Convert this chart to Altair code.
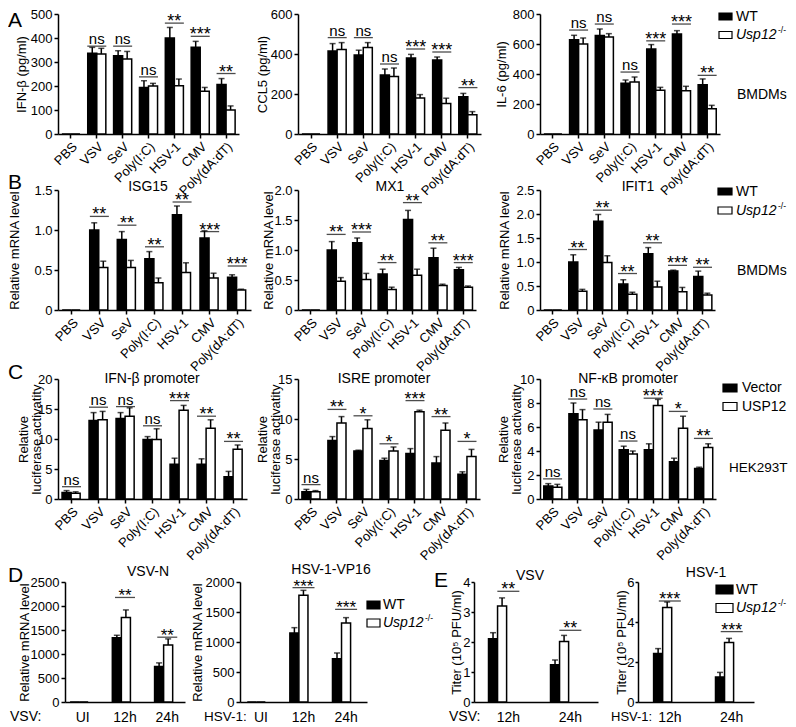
import altair as alt
import pandas as pd

FONT = "Liberation Sans"
PLOT_H = 120

CATS = ["PBS", "VSV", "SeV", "Poly(I:C)", "HSV-1", "CMV", "Poly(dA:dT)"]
TIMES_D = ["UI", "12h", "24h"]
TIMES_E = ["12h", "24h"]

# ---------------- A: cytokines (pg/ml), WT vs Usp12-/- ----------------
IFNB_WT = [0, 336, 326, 194, 400, 361, 206]
IFNB_WT_SD = [0, 25, 21, 28, 44, 25, 25]
IFNB_KO = [0, 333, 312, 200, 201, 178, 100]
IFNB_KO_SD = [0, 24, 32, 11, 28, 16, 17]
IFNB_SIG = ["", "ns", "ns", "ns", "**", "***", "**"]
IFNB_SIG_Y = [0, 366, 366, 238, 462, 407, 252]

CCL5_WT = [0, 415, 395, 295, 380, 370, 186]
CCL5_WT_SD = [0, 37, 24, 30, 18, 15, 17]
CCL5_KO = [0, 423, 432, 288, 180, 152, 96]
CCL5_KO_SD = [0, 34, 25, 42, 17, 27, 16]
CCL5_SIG = ["", "ns", "ns", "ns", "***", "***", "**"]
CCL5_SIG_Y = [0, 482, 482, 350, 425, 410, 232]

IL6_WT = [0, 629, 656, 338, 567, 667, 329]
IL6_WT_SD = [0, 29, 44, 22, 29, 22, 38]
IL6_KO = [0, 600, 647, 347, 291, 289, 169]
IL6_KO_SD = [0, 40, 22, 33, 20, 29, 22]
IL6_SIG = ["", "ns", "ns", "ns", "***", "***", "**"]
IL6_SIG_Y = [0, 693, 733, 413, 621, 733, 391]

# ---------------- B: relative mRNA ----------------
ISG15_WT = [0, 1.00, 0.88, 0.64, 1.19, 0.90, 0.41]
ISG15_WT_SD = [0, 0.09, 0.10, 0.09, 0.11, 0.09, 0.03]
ISG15_KO = [0, 0.53, 0.53, 0.34, 0.47, 0.40, 0.25]
ISG15_KO_SD = [0, 0.08, 0.09, 0.06, 0.12, 0.06, 0.01]
ISG15_SIG = ["", "**", "**", "**", "**", "***", "***"]
ISG15_SIG_Y = [0, 1.17, 1.06, 0.79, 1.35, 0.98, 0.55]

MX1_WT = [0, 1.00, 1.12, 0.60, 1.51, 0.87, 0.67]
MX1_WT_SD = [0, 0.14, 0.08, 0.08, 0.15, 0.16, 0.04]
MX1_KO = [0, 0.48, 0.51, 0.34, 0.58, 0.41, 0.38]
MX1_KO_SD = [0, 0.06, 0.10, 0.04, 0.10, 0.02, 0.02]
MX1_SIG = ["", "**", "***", "**", "**", "**", "***"]
MX1_SIG_Y = [0, 1.26, 1.30, 0.79, 1.79, 1.12, 0.79]

IFIT1_WT = [0, 1.00, 1.85, 0.54, 1.17, 0.81, 0.70]
IFIT1_WT_SD = [0, 0.15, 0.14, 0.09, 0.13, 0.02, 0.11]
IFIT1_KO = [0, 0.39, 0.99, 0.33, 0.48, 0.38, 0.31]
IFIT1_KO_SD = [0, 0.04, 0.14, 0.04, 0.12, 0.09, 0.04]
IFIT1_SIG = ["", "**", "**", "**", "**", "***", "**"]
IFIT1_SIG_Y = [0, 1.26, 2.08, 0.76, 1.40, 0.93, 0.89]

# ---------------- C: luciferase, Vector vs USP12 ----------------
IFNP_V = [1.1, 13.1, 13.4, 9.9, 5.8, 5.8, 3.7]
IFNP_V_SD = [0.3, 1.3, 1.0, 0.5, 1.0, 0.9, 0.9]
IFNP_U = [0.95, 13.2, 13.8, 9.9, 14.8, 11.8, 8.3]
IFNP_U_SD = [0.25, 1.4, 1.4, 1.8, 0.8, 1.4, 0.7]
IFNP_SIG = ["ns", "ns", "ns", "ns", "***", "**", "**"]
IFNP_SIG_Y = [2.05, 15.3, 15.4, 12.2, 16.4, 13.8, 9.6]

ISRE_V = [0.92, 7.3, 6.0, 4.8, 5.7, 4.5, 3.1]
ISRE_V_SD = [0.28, 0.5, 0.1, 0.3, 0.6, 0.8, 0.3]
ISRE_U = [0.9, 9.5, 8.8, 6.0, 10.9, 8.6, 5.3]
ISRE_U_SD = [0.15, 0.8, 1.1, 0.5, 0.2, 0.9, 0.9]
ISRE_SIG = ["ns", "**", "*", "*", "***", "**", "*"]
ISRE_SIG_Y = [1.8, 11.2, 10.4, 6.9, 12.3, 10.3, 7.2]

NFKB_V = [1.08, 7.1, 5.75, 4.1, 4.1, 3.1, 2.55]
NFKB_V_SD = [0.2, 0.9, 0.65, 0.3, 0.5, 0.3, 0.1]
NFKB_U = [0.97, 6.6, 6.4, 3.75, 7.8, 5.9, 4.3]
NFKB_U_SD = [0.25, 0.85, 0.65, 0.25, 0.5, 1.0, 0.3]
NFKB_SIG = ["ns", "ns", "ns", "ns", "***", "*", "**"]
NFKB_SIG_Y = [1.67, 8.33, 7.5, 4.83, 8.4, 7.3, 5.05]

# ---------------- D: viral mRNA ----------------
VSVN_WT = [0, 1336, 740]
VSVN_WT_SD = [0, 54, 75]
VSVN_KO = [0, 1760, 1185]
VSVN_KO_SD = [0, 158, 130]
VSVN_SIG = ["", "**", "**"]
VSVN_SIG_Y = [0, 2178, 1350]

VP16_WT = [0, 1150, 722]
VP16_WT_SD = [0, 89, 95]
VP16_KO = [0, 1778, 1317]
VP16_KO_SD = [0, 83, 89]
VP16_SIG = ["", "***", "***"]
VP16_SIG_Y = [0, 1906, 1544]

# ---------------- E: titers ----------------
TVSV_WT = [2.11, 1.24]
TVSV_WT_SD = [0.20, 0.16]
TVSV_KO = [3.20, 2.02]
TVSV_KO_SD = [0.27, 0.20]
TVSV_SIG = ["**", "**"]
TVSV_SIG_Y = [3.69, 2.39]

THSV_WT = [2.43, 1.25]
THSV_WT_SD = [0.24, 0.23]
THSV_KO = [4.72, 2.97]
THSV_KO_SD = [0.28, 0.21]
THSV_SIG = ["***", "***"]
THSV_SIG_Y = [5.05, 3.52]

# grid column widths (cells); panels may draw wider than their cell
COLS = [7, 175, 58, 176, 66, 98, 116]


def txt(s, x, y, size=14, align="left", style="normal", baseline="middle"):
    return alt.Chart(pd.DataFrame({"t": [s]})).mark_text(
        align=align, baseline=baseline, fontSize=size, fontStyle=style, color="black"
    ).encode(x=alt.value(x), y=alt.value(y), text="t:N")


def swatch(x, x2, y, y2, fill):
    return alt.Chart(pd.DataFrame({"k": [0]})).mark_rect(
        fill=fill, stroke="black", strokeWidth=1.2
    ).encode(x=alt.value(x), x2=alt.value(x2), y=alt.value(y), y2=alt.value(y2))


def legend(x, xt, y1, y2, w, h, lab1, lab2, italic2=True):
    out = [swatch(x, x + w, y1 - h / 2, y1 + h / 2, "black"),
           swatch(x, x + w, y2 - h / 2, y2 + h / 2, "white"),
           txt(lab1, xt, y1)]
    if italic2:
        out.append(txt(lab2, xt, y2, style="italic"))
        out.append(txt("-/-", xt + 42, y2 - 5, size=8.5))
    else:
        out.append(txt(lab2, xt, y2))
    return out


def blank(w, h):
    return alt.Chart(pd.DataFrame({"k": [0]})).mark_text(text="").encode(
        x=alt.value(0), y=alt.value(0)).properties(width=w, height=h)


def panel(cats, wt, wt_sd, ko, ko_sd, sig, sig_y, ymax, yticks, ytitle, title_x,
          slot_w, range_w, slot_h, pad_in=0.3, pad_out=0.15, align=0.5, rotated=True,
          dec=False, sig_w=19, star_size=18, ytick=4, ylpad=2, extras=()):
    top = slot_h - PLOT_H
    rows = []
    for i, c in enumerate(cats):
        rows.append({"cat": c, "grp": "a", "val": wt[i], "sd": wt_sd[i], "top": wt[i] + wt_sd[i]})
        rows.append({"cat": c, "grp": "b", "val": ko[i], "sd": ko_sd[i], "top": ko[i] + ko_sd[i]})
    df = pd.DataFrame(rows)
    err = df[df.sd > 0]
    sdf = pd.DataFrame({"cat": cats, "sig": sig, "sy": sig_y})
    sdf = sdf[sdf.sig != ""]
    ns = sdf[sdf.sig == "ns"]
    st = sdf[sdf.sig != "ns"]

    xscale = alt.Scale(domain=cats, range=[0, range_w], paddingInner=pad_in,
                       paddingOuter=pad_out, align=align)
    if rotated:
        xaxis = alt.Axis(title=None, labelAngle=315, labelAlign="right", labelBaseline="top",
                         ticks=True, tickSize=4, labelFontSize=13, labelPadding=2)
    else:
        xaxis = alt.Axis(title=None, labelAngle=0, ticks=False, labelFontSize=14, labelPadding=8)
    yscale = alt.Scale(domain=[0, ymax], range=[slot_h, top], nice=False, zero=True)
    yargs = dict(values=yticks, title=ytitle, titleX=title_x, titleY=top + PLOT_H / 2,
                 titleBaseline="middle", titleAlign="center", titleAngle=270,
                 titleLineHeight=13, tickSize=ytick, labelPadding=ylpad)
    if dec:
        yaxis = alt.Axis(labelExpr="datum.value == 0 ? '0' : format(datum.value, '.1f')", **yargs)
    else:
        yaxis = alt.Axis(format="d", **yargs)

    X = alt.X("cat:N", scale=xscale, axis=xaxis)
    XO = alt.XOffset("grp:N", scale=alt.Scale(domain=["a", "b"], paddingInner=0, paddingOuter=0))

    def Y(f):
        return alt.Y(f + ":Q", scale=yscale, axis=yaxis)

    bars = alt.Chart(df).mark_bar(stroke="black", strokeWidth=1.5).encode(
        x=X, xOffset=XO, y=Y("val"),
        fill=alt.Fill("grp:N", scale=alt.Scale(domain=["a", "b"], range=["#000000", "#ffffff"]),
                      legend=None))
    errs = alt.Chart(err).mark_rule(color="black", strokeWidth=1.5).encode(
        x=X, xOffset=XO, y=Y("val"), y2="top:Q")
    caps = alt.Chart(err).mark_tick(color="black", thickness=1.5, size=6, orient="horizontal").encode(
        x=X, xOffset=XO, y=Y("top"))
    lines = alt.Chart(sdf).mark_tick(color="black", thickness=1.3, size=sig_w, orient="horizontal").encode(
        x=X, y=Y("sy"))
    ns_t = alt.Chart(ns).mark_text(fontSize=15, baseline="alphabetic", dy=-2, color="black").encode(
        x=X, y=Y("sy"), text="sig:N")
    st_t = alt.Chart(st).mark_text(fontSize=star_size, baseline="alphabetic", dy=4, color="black").encode(
        x=X, y=Y("sy"), text="sig:N")
    return alt.layer(bars, errs, caps, lines, ns_t, st_t, *extras).properties(
        width=slot_w, height=slot_h)


# ---------------- Row A ----------------
HA = 120
tA = HA - PLOT_H
A1 = panel(CATS, IFNB_WT, IFNB_WT_SD, IFNB_KO, IFNB_KO_SD, IFNB_SIG, IFNB_SIG_Y,
           500, [0, 100, 200, 300, 400, 500], "IFN-β (pg/ml)", -37, COLS[0], 181, HA,
           extras=[txt("A", -50, tA + 7, size=21)])
A2 = panel(CATS, CCL5_WT, CCL5_WT_SD, CCL5_KO, CCL5_KO_SD, CCL5_SIG, CCL5_SIG_Y,
           600, [0, 200, 400, 600], "CCL5 (pg/ml)", -36, COLS[3], 183, HA)
A3 = panel(CATS, IL6_WT, IL6_WT_SD, IL6_KO, IL6_KO_SD, IL6_SIG, IL6_SIG_Y,
           800, [0, 200, 400, 600, 800], "IL-6 (pg/ml)", -39, COLS[5], 180, HA,
           extras=legend(179, 196, tA + 2.5, tA + 21, 13, 7, "WT", "Usp12")
           + [txt("BMDMs", 197, tA + 81)])

# ---------------- Row B ----------------
HB = 176
tB = HB - PLOT_H
B1 = panel(CATS, ISG15_WT, ISG15_WT_SD, ISG15_KO, ISG15_KO_SD, ISG15_SIG, ISG15_SIG_Y,
           1.5, [0, 0.5, 1.0, 1.5], "Relative mRNA level", -43.5, COLS[0], 193, HB, dec=True,
           extras=[txt("B", -50, tB - 7, size=21), txt("ISG15", 90, tB - 3, align="center")])
B2 = panel(CATS, MX1_WT, MX1_WT_SD, MX1_KO, MX1_KO_SD, MX1_SIG, MX1_SIG_Y,
           2.0, [0, 0.5, 1.0, 1.5, 2.0], "Relative mRNA level", -30, COLS[3], 178, HB, dec=True,
           extras=[txt("MX1", 92, tB - 3, align="center")])
B3 = panel(CATS, IFIT1_WT, IFIT1_WT_SD, IFIT1_KO, IFIT1_KO_SD, IFIT1_SIG, IFIT1_SIG_Y,
           2.5, [0, 0.5, 1.0, 1.5, 2.0, 2.5], "Relative mRNA level", -36, COLS[5], 175, HB, dec=True,
           extras=[txt("IFIT1", 98, tB - 3, align="center")]
           + legend(178, 196, tB + 1.5, tB + 20.5, 14, 7, "WT", "Usp12")
           + [txt("BMDMs", 197, tB + 81)])

# ---------------- Row C ----------------
HC = 189
tC = HC - PLOT_H
LUC = ["Relative", "luciferase activatity"]
C1 = panel(CATS, IFNP_V, IFNP_V_SD, IFNP_U, IFNP_U_SD, IFNP_SIG, IFNP_SIG_Y,
           20, [0, 5, 10, 15, 20], LUC, -35, COLS[0], 189, HC,
           extras=[txt("C", -50, tC - 6.5, size=21), txt("IFN-β promoter", 94, tC, align="center")])
C2 = panel(CATS, ISRE_V, ISRE_V_SD, ISRE_U, ISRE_U_SD, ISRE_SIG, ISRE_SIG_Y,
           15, [0, 5, 10, 15], LUC, -36, COLS[3], 182, HC,
           extras=[txt("ISRE promoter", 86, tC, align="center")])
C3 = panel(CATS, NFKB_V, NFKB_V_SD, NFKB_U, NFKB_U_SD, NFKB_SIG, NFKB_SIG_Y,
           10, [0, 2, 4, 6, 8, 10], LUC, -37, COLS[5], 176, HC,
           extras=[txt("NF-κB promoter", 88, tC, align="center")]
           + legend(183, 202, tC + 9, tC + 27.5, 14, 8, "Vector", "USP12", italic2=False)
           + [txt("HEK293T", 189, tC + 89, size=13.5)])

# ---------------- Row D / E ----------------
HD = 203
tD = HD - PLOT_H
D1 = panel(TIMES_D, VSVN_WT, VSVN_WT_SD, VSVN_KO, VSVN_KO_SD, VSVN_SIG, VSVN_SIG_Y,
           2500, [0, 500, 1000, 1500, 2000, 2500], "Relative mRNA level", -41, COLS[1], 120, HD,
           pad_in=0.4, pad_out=0.12, rotated=False, sig_w=20, star_size=17,
           extras=[txt("D", -57, tD - 6, size=21), txt("VSV-N", 83, tD - 10, align="center"),
                   txt("VSV:", -55, HD + 15)])
D2 = panel(TIMES_D, VP16_WT, VP16_WT_SD, VP16_KO, VP16_KO_SD, VP16_SIG, VP16_SIG_Y,
           2000, [0, 500, 1000, 1500, 2000], "Relative mRNA level", -43, COLS[2], 127, HD,
           pad_in=0.36, pad_out=0.17, rotated=False, sig_w=22, star_size=17,
           extras=[txt("HSV-1-VP16", 91, tD - 12, align="center"), txt("HSV-1:", -36, HD + 15, size=13.5)]
           + legend(127, 143, tD + 23, tD + 41, 13, 8, "WT", "Usp12"))
E1 = panel(TIMES_E, TVSV_WT, TVSV_WT_SD, TVSV_KO, TVSV_KO_SD, TVSV_SIG, TVSV_SIG_Y,
           4, [0, 1, 2, 3, 4], "Titer (10⁵ PFU/ml)", -18, COLS[4], 124, HD,
           pad_in=0.36, pad_out=0.18, align=0.65, rotated=False, sig_w=22, star_size=18,
           ytick=3, ylpad=1,
           extras=[txt("E", -40, tD - 1, size=21), txt("VSV", 56, tD - 6, align="center"),
                   txt("VSV:", -25, HD + 15)])
E2 = panel(TIMES_E, THSV_WT, THSV_WT_SD, THSV_KO, THSV_KO_SD, THSV_SIG, THSV_SIG_Y,
           6, [0, 2, 4, 6], "Titer (10⁵ PFU/ml)", -17, COLS[6], 116, HD,
           pad_in=0.476, pad_out=0.175, align=0.72, rotated=False, sig_w=22, star_size=18,
           ytick=3, ylpad=1,
           extras=[txt("HSV-1", 68, tD - 9, align="center"), txt("HSV-1:", -27, HD + 15, size=13)]
           + legend(78, 98, tD + 7.5, tD + 26, 17, 9, "WT", "Usp12"))


def row(items, h):
    out = []
    for c, it in enumerate(items):
        out.append(it if it is not None else blank(COLS[c], h))
    return out


panels = (
    row([A1, None, None, A2, None, A3, None], HA)
    + row([B1, None, None, B2, None, B3, None], HB)
    + row([C1, None, None, C2, None, C3, None], HC)
    + row([None, D1, D2, None, E1, None, E2], HD)
)

chart = alt.concat(*panels, columns=7, align="each", bounds="flush", spacing=0).properties(
    padding={"left": 0, "top": 0, "right": 0, "bottom": 0}
).configure_view(stroke=None).configure_axis(
    labelFont=FONT, titleFont=FONT, labelFontSize=13, titleFontSize=13,
    titleFontWeight="normal", labelColor="black", titleColor="black",
    domainColor="black", tickColor="black", domainWidth=1.5, tickWidth=1.5,
    grid=False, labelOverlap=False, labelFlush=False, labelBound=False
).configure_text(font=FONT)

chart.save("out.html", embed_options={"renderer": "svg", "actions": False})
